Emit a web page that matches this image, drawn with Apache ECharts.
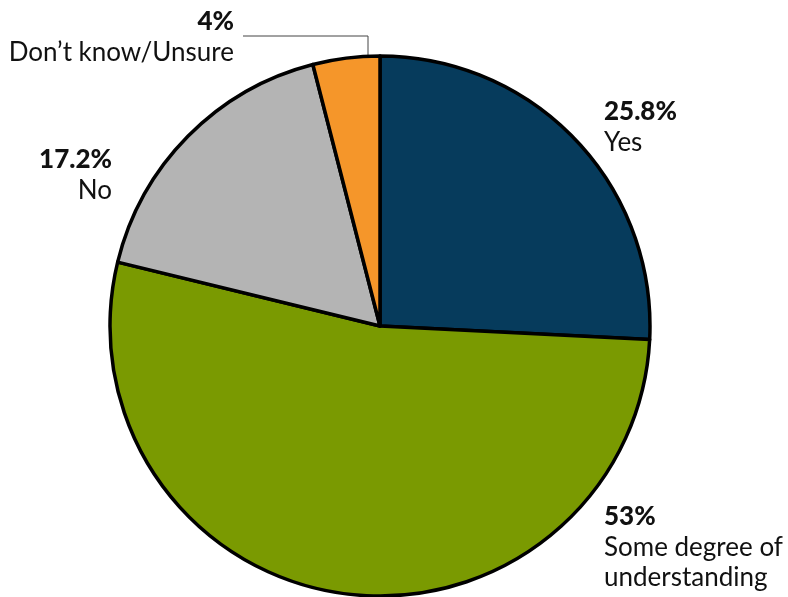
<!DOCTYPE html>
<html>
<head>
<meta charset="utf-8">
<script src="https://cdn.jsdelivr.net/npm/echarts@6/dist/echarts.min.js"></script>
<style>html,body{margin:0;padding:0;background:#fff;}#c{width:788px;height:597px;}</style>
</head>
<body>
<div id="c"></div>
<script>
const categories = ['Yes', 'Some degree of\nunderstanding', 'No', 'Don\u2019t know/Unsure'];
const values = [25.8, 53, 17.2, 4];
const colors = ['#063b5c', '#7a9a01', '#b4b4b4', '#f5962a'];

// label anchor placement (layout only)
const labelPlace = [
  { x: 604, y: 96, align: 'left' },
  { x: 604, y: 501, align: 'left' },
  { x: 112, y: 144, align: 'right' },
  { x: 234, y: 6, align: 'right' }
];

const chart = echarts.init(document.getElementById('c'));
const CX = 380, CY = 326, R = 270;
chart.setOption({
  animation: false,
  series: [{
    type: 'pie',
    center: [CX, CY],
    radius: [0, R],
    startAngle: 90,
    clockwise: true,
    silent: true,
    itemStyle: { borderColor: '#000', borderWidth: 3.5 },
    label: {
      show: true,
      position: 'outside',
      formatter: '{p|{c}%}\n{n|{b}}',
      rich: {
        p: { fontFamily: 'Lato', fontWeight: 900, fontSize: 26, lineHeight: 32, color: '#111' },
        n: { fontFamily: 'Lato', fontSize: 26, lineHeight: 30, color: '#111' }
      }
    },
    labelLine: { show: false },
    labelLayout: function (params) {
      const p = labelPlace[params.dataIndex];
      const out = { x: p.x, y: p.y, align: p.align, verticalAlign: 'top' };
      if (params.dataIndex === 3) {
        const ly = p.y + 30;
        const lx = 368;
        out.labelLinePoints = [[p.x + 9, ly], [lx, ly], [lx, CY - Math.sqrt(R * R - (lx - CX) * (lx - CX)) + 4]];
      }
      return out;
    },
    data: categories.map((c, i) => ({
      name: c,
      value: values[i],
      itemStyle: { color: colors[i] },
      label: { align: labelPlace[i].align },
      labelLine: i === 3 ? { show: true, lineStyle: { color: '#444', width: 1 } } : { show: false }
    }))
  }]
});
</script>
</body>
</html>
